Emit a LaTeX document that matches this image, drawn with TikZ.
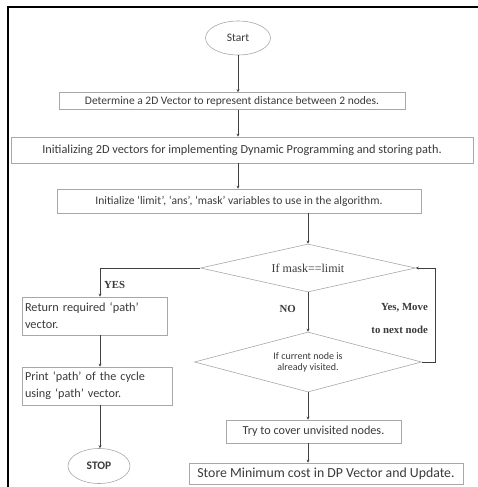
\documentclass[tikz,border=0pt]{standalone}
\usepackage{fontspec}
\setmainfont{Carlito}
\newfontfamily\serifb{Liberation Serif}
\usetikzlibrary{shapes.geometric,arrows.meta}
\definecolor{txt}{HTML}{3A3A3A}
\definecolor{edge}{HTML}{A8A8A8}
\tikzset{
  box/.style={draw=edge, line width=0.6pt, rectangle, inner sep=0pt, text=txt, font=\fontsize{11}{13}\selectfont},
  oval/.style={draw=edge, line width=0.6pt, ellipse, inner sep=0pt, text=txt},
  dia/.style={draw=edge, line width=0.6pt, diamond, inner sep=0pt, text=txt},
  conn/.style={draw=black!75, line width=0.6pt, -{Stealth[length=3pt,width=3pt]}},
  lbl/.style={text=txt, font=\serifb\bfseries\fontsize{10.8}{12}\selectfont, inner sep=0pt}
}
\begin{document}
\begin{tikzpicture}[x=1pt,y=-1pt]
\useasboundingbox (0,0) rectangle (478,487);
\draw[line width=1.6pt] (8,487) -- (8,7) -- (478,7);

\node[oval, minimum width=65pt, minimum height=34pt, font=\fontsize{11.5}{13}\selectfont] (start) at (238,38) {Start};
\node[box, minimum width=346pt, minimum height=17pt, font=\fontsize{11.5}{13}\selectfont] (b1) at (232,101) {Determine a 2D Vector to represent distance between 2 nodes.};
\node[box, minimum width=462pt, minimum height=26pt, font=\fontsize{12.3}{14}\selectfont] (b2) at (242,150) {Initializing 2D vectors for implementing Dynamic Programming and storing path.};
\node[box, minimum width=364pt, minimum height=24pt, font=\fontsize{11.6}{13}\selectfont] (b3) at (239,201) {Initialize `limit', `ans', `mask' variables to use in the algorithm.};
\node[dia, shape aspect=4.5, minimum width=215pt, minimum height=48pt, font=\serifb\fontsize{12}{14}\selectfont] (d1) at (308,268) {If mask==limit};
\node[dia, shape aspect=3.8, minimum width=227pt, minimum height=60pt, font=\fontsize{10}{11}\selectfont, align=center] (d2) at (308,362) {If current node is\\already visited.};
\node[box, minimum width=145pt, minimum height=38pt, align=left, text width=139pt, font=\fontsize{12.3}{17}\selectfont] (b4) at (94.5,316) {Return required `path'\\vector.};
\node[box, minimum width=150pt, minimum height=38pt, align=left, text width=144pt, font=\fontsize{12.2}{17}\selectfont] (b5) at (97,386) {Print `path' of the cycle\\using `path' vector.};
\node[oval, minimum width=62pt, minimum height=35pt, font=\bfseries\fontsize{11.5}{13}\selectfont] (stop) at (99,466) {STOP};
\node[box, minimum width=175pt, minimum height=23pt, font=\fontsize{12.2}{14}\selectfont] (b6) at (313.5,431.5) {Try to cover unvisited nodes.};
\node[box, minimum width=274pt, minimum height=21pt, font=\fontsize{13.8}{15}\selectfont] (b7) at (326,473.5) {Store Minimum cost in DP Vector and Update.};

\coordinate (yc) at (100,268);
\coordinate (lc) at (435,362);

\draw[conn] (start) -- (start |- b1.north);
\draw[conn] (start |- b1.south) -- (start |- b2.north);
\draw[conn] (start |- b2.south) -- (start |- b3.north);
\draw[conn] (d1 |- b3.south) -- (d1.north);
\draw[conn] (d1.west) -- (yc) -- (yc |- b4.north);
\draw[conn] (yc |- b4.south) -- (yc |- b5.north);
\draw[conn] (yc |- b5.south) -- (yc |- stop.north);
\draw[conn] (d1.south) -- (d2.north);
\draw[conn] (d2.east) -- (lc) -- (lc |- d1.east) -- (d1.east);
\draw[conn] (d2.south) -- (d2 |- b6.north);
\draw[conn] (d2 |- b6.south) -- (d2 |- b7.north);

\node[lbl, anchor=west] (yes) at (104,285) {YES};
\node[lbl, anchor=east] (no) at (296,309) {NO};
\node[lbl, anchor=east] (ym1) at (428,308) {Yes, Move};
\node[lbl, anchor=east] (ym2) at (428,330) {to next node};
\end{tikzpicture}
\end{document}
